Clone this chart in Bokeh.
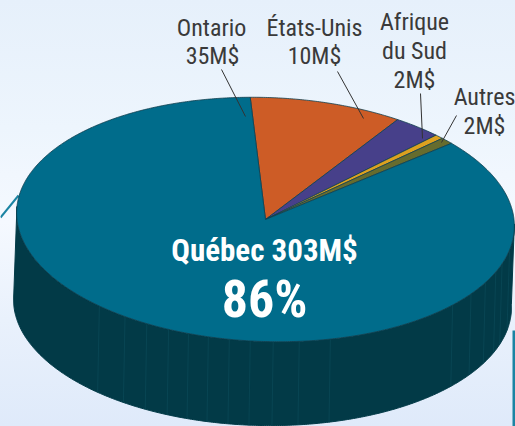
import math
from bokeh.plotting import figure
from bokeh.models import Range1d
from bokeh.embed import file_html
from bokeh.resources import INLINE
from bokeh.core.properties import value

categories = ["Québec", "Ontario", "États-Unis", "Afrique du Sud", "Autres"]
# slice sizes as drawn in the picture (the small ones are drawn a little off their labels)
values = [303, 35, 11, 2, 3]
colors = ["#006C8B", "#CD5C26", "#47408A", "#DDA11F", "#666C2E"]
rib_x = [102, 128, 150, 172, 192, 212, 233, 254, 277, 303, 334, 455, 473, 487, 497, 503, 510]
start_deg = 94.5

W, H = 515, 426
CX, CY, RX, RY, ROT = 265, 219, 249, 122, math.radians(2.0)
BCX, BCY, BROT = 262, 303, math.radians(1.2)
FONT = "Roboto Condensed"

def ell(deg, cx, cy, rot):
    a = math.radians(deg)
    ex, ey = RX * math.cos(a), -RY * math.sin(a)
    return (cx + ex * math.cos(rot) - ey * math.sin(rot),
            cy + ex * math.sin(rot) + ey * math.cos(rot))

def pt(deg):
    return ell(deg, CX, CY, ROT)

def pb(deg):
    return ell(deg, BCX, BCY, BROT)

p = figure(width=W, height=H, x_range=Range1d(0, W), y_range=Range1d(H, 0),
           toolbar_location=None, output_backend="svg", min_border=0,
           outline_line_color=None, background_fill_alpha=0, border_fill_alpha=0,
           styles={"position": "fixed", "left": "0", "top": "0",
                   "background": "linear-gradient(180deg,#E6F0FB 0%,#EDF5FD 30%,#F5F9FF 52%,#E9F1FC 75%,#DFEAFA 100%)"})
p.axis.visible = False
p.grid.visible = False

# frame lines behind the pie
p.multi_line([[0, 18], [513.5, 513.5]], [[217, 195], [330, 426]], line_color="#1B84A3",
             line_width=[2, 3])

# side wall
angs = [i * 0.5 for i in range(356, 725)]
lo = [pt(a) for a in angs]
bt = [pb(a) for a in angs]
wx = [q[0] for q in lo] + [q[0] for q in reversed(bt)]
wy = [q[1] for q in lo] + [q[1] for q in reversed(bt)]
p.patch(wx, wy, fill_color="#023A47", line_color="#023A47")

# faint vertical ribs on the wall
rib_angles = [360 - math.degrees(math.acos((x - CX) / RX)) for x in rib_x]
p.segment([pt(a)[0] for a in rib_angles], [pt(a)[1] for a in rib_angles],
          [pb(a)[0] for a in rib_angles], [pb(a)[1] for a in rib_angles],
          line_color="#084553", line_width=1)

# top face slices, clockwise from the Ontario/Québec edge, Québec last
order = [1, 2, 3, 4, 0]
total = sum(values)
a0 = start_deg
for idx in order:
    sweep = values[idx] / total * 360
    n = max(2, int(sweep * 2))
    arc = [pt(a0 - sweep * k / n) for k in range(n + 1)]
    xs = [CX] + [q[0] for q in arc]
    ys = [CY] + [q[1] for q in arc]
    p.patch(xs, ys, fill_color=colors[idx], line_color="#12404F", line_width=0.8)
    a0 -= sweep

# leader lines
lead_x = [[221, 245], [337, 363], [420, 422], [456, 441]]
lead_y = [[69, 116], [71, 118], [93, 138], [115, 142]]
p.multi_line(lead_x, lead_y, line_color="#333333", line_width=1)

labels = [("Ontario", 211, 27), ("35M$", 212, 55), ("États-Unis", 314, 27), ("10M$", 314, 55),
          ("Afrique", 414, 21), ("du Sud", 414, 50), ("2M$", 414, 79), ("Autres", 484, 96), ("2M$", 484, 125)]
p.text([l[1] for l in labels], [l[2] for l in labels], text=[l[0] for l in labels],
       text_font=value(FONT), text_font_size="24px", text_color="#3A3A3A",
       text_align="center", text_baseline="middle")
p.text([264], [250], text=["Québec 303M$"], text_font=value(FONT), text_font_style="bold",
       text_font_size="31px", text_color="#FFFFFF", text_align="center", text_baseline="middle")
p.text([264], [299], text=["86%"], text_font=value(FONT), text_font_style="bold",
       text_font_size="52px", text_color="#FFFFFF", text_align="center", text_baseline="middle")

open("out.html", "w").write(file_html(p, INLINE))
